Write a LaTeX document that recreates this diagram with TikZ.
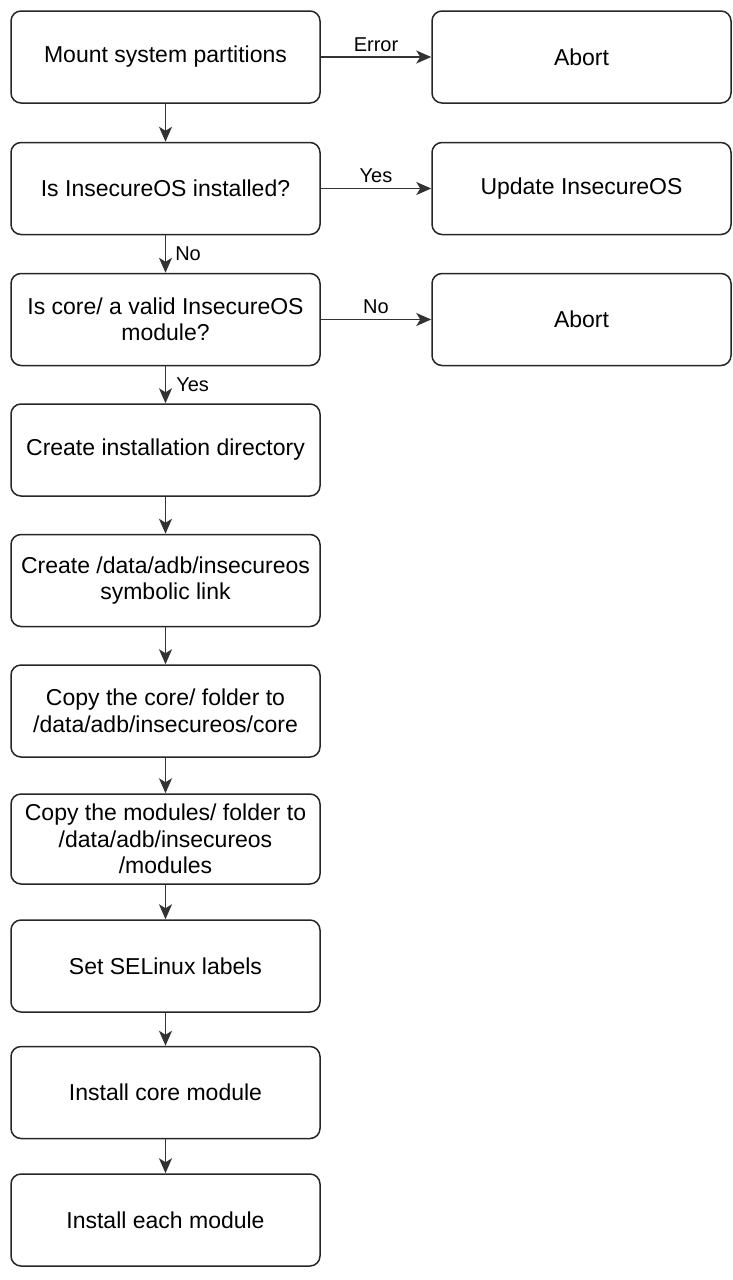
\documentclass[tikz,border=0pt]{standalone}
\usepackage{fontspec}
\setmainfont{Liberation Sans}
\usetikzlibrary{arrows.meta,positioning}

\begin{document}
\begin{tikzpicture}[x=1pt,y=-1pt,line join=round,
  stepbox/.style={draw=black!85,line width=1.5pt,rounded corners=10pt,
    minimum width=309pt,minimum height=92pt,align=center,
    font=\fontsize{23}{26.5}\selectfont},
  sidebox/.style={stepbox,minimum width=299pt},
  flow/.style={-{Stealth[length=15pt,width=13pt,inset=4pt]},line width=1.5pt,draw=black!80},
  lbl/.style={font=\fontsize{20}{23}\selectfont,inner sep=0pt}]
  \useasboundingbox (0,0) rectangle (732,1280);
  % main column
  \node[stepbox] (mount) at (165.5,57) {Mount system partitions};
  \node[stepbox] (installed) at (165.5,188.5) {Is InsecureOS installed?};
  \node[stepbox] (valid) at (165.5,319.5) {Is core/ a valid InsecureOS\\module?};
  \node[stepbox] (instdir) at (165.5,450) {Create installation directory};
  \node[stepbox] (symlink) at (165.5,580.5) {Create /data/adb/insecureos\\symbolic link};
  \node[stepbox] (copycore) at (165.5,711) {Copy the core/ folder to\\/data/adb/insecureos/core};
  \node[stepbox,minimum height=90pt] (copymods) at (165.5,839) {Copy the modules/ folder to\\/data/adb/insecureos\\/modules};
  \node[stepbox] (selinux) at (165.5,966) {Set SELinux labels};
  \node[stepbox] (coremod) at (165.5,1092.5) {Install core module};
  \node[stepbox] (eachmod) at (165.5,1220) {Install each module};
  % side column
  \node[sidebox] (abortA) at (581.5,57) {Abort};
  \node[sidebox] (update) at (581.5,188.5) {Update InsecureOS};
  \node[sidebox] (abortB) at (581.5,319.5) {Abort};

  \draw[flow] (mount) -- node[lbl,above,inner sep=5pt]{Error} (abortA);
  \draw[flow] (installed) -- node[lbl,above,inner sep=5pt]{Yes} (update);
  \draw[flow] (valid) -- node[lbl,above,inner sep=5pt]{No} (abortB);

  \draw[flow] (mount) -- (installed);
  \draw[flow] (installed) -- node[lbl,right,xshift=9pt]{No} (valid);
  \draw[flow] (valid) -- node[lbl,right,xshift=10pt]{Yes} (instdir);
  \draw[flow] (instdir) -- (symlink);
  \draw[flow] (symlink) -- (copycore);
  \draw[flow] (copycore) -- (copymods);
  \draw[flow] (copymods) -- (selinux);
  \draw[flow] (selinux) -- (coremod);
  \draw[flow] (coremod) -- (eachmod);
\end{tikzpicture}
\end{document}
